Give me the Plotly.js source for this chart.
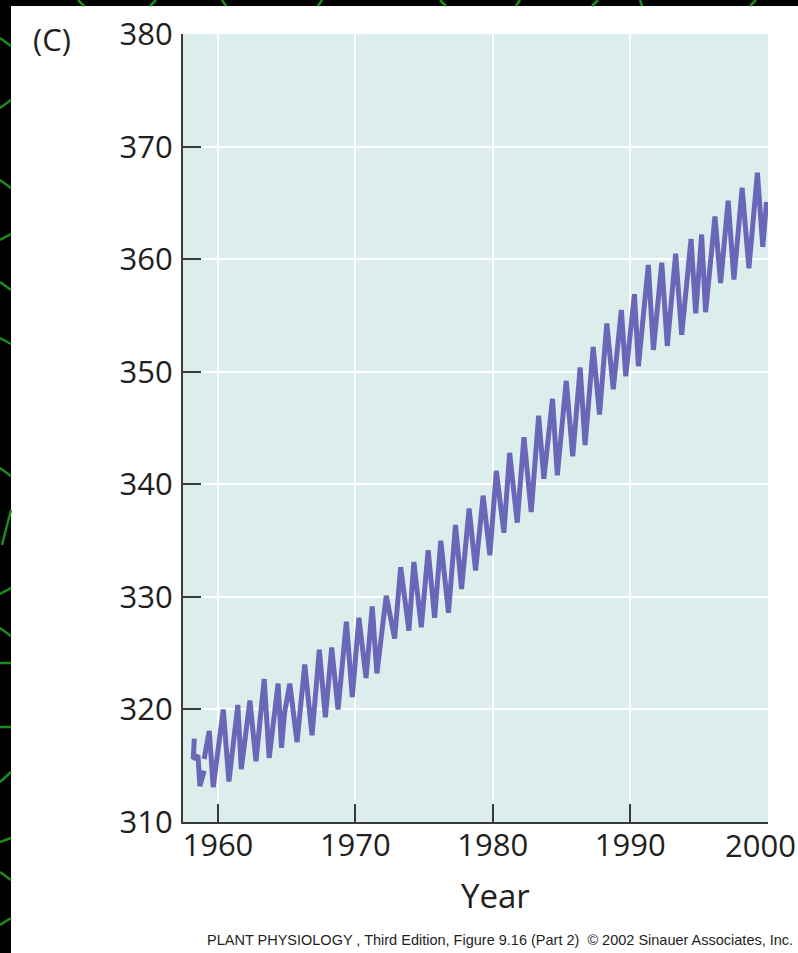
<!DOCTYPE html>
<html>
<head>
<meta charset="utf-8">
<script src="https://cdn.plot.ly/plotly-3.0.1.min.js"></script>
<style>
html,body{margin:0;padding:0;background:#000;}
#chart{width:798px;height:953px;}
</style>
</head>
<body>
<div id="chart"></div>
<script>
// Data (peaks and troughs of the CO2 record, ppm)
const years = [1958.28, 1958.21, 1958.55, 1958.69, 1959.00, null,
  1959.00, 1959.37, 1959.66, 1960.39, 1960.80, 1961.45, 1961.70, 1962.33, 1962.77,
  1963.37, 1963.73, 1964.07, 1964.38, 1964.63, 1964.85, 1965.23, 1965.76, 1966.32,
  1966.85, 1967.38, 1967.82, 1968.28, 1968.74, 1969.35, 1969.78, 1970.26, 1970.78,
  1971.23, 1971.57, 1972.25, 1972.86, 1973.30, 1973.90, 1974.26, 1974.80, 1975.30,
  1975.77, 1976.22, 1976.78, 1977.29, 1977.73, 1978.28, 1978.75, 1979.30, 1979.79,
  1980.26, 1980.81, 1981.23, 1981.78, 1982.27, 1982.80, 1983.34, 1983.72, 1984.35,
  1984.70, 1985.35, 1985.82, 1986.36, 1986.72, 1987.31, 1987.77, 1988.30, 1988.77,
  1989.36, 1989.68, 1990.31, 1990.60, 1991.32, 1991.69, 1992.30, 1992.70, 1993.31,
  1993.75, 1994.43, 1994.77, 1995.20, 1995.49, 1996.17, 1996.58, 1997.13, 1997.55,
  1998.15, 1998.64, 1999.26, 1999.65, 1999.92];
const co2 = [317.4, 315.6, 315.9, 313.2, 314.55, null,
  315.6, 318.1, 313.1, 320.0, 313.6, 320.4, 314.7, 320.8, 315.4,
  322.7, 315.7, 319.45, 322.3, 316.6, 319.7, 322.3, 317.1, 324.0,
  317.7, 325.3, 319.3, 325.5, 320.0, 327.8, 321.1, 328.15, 322.8,
  329.15, 323.2, 330.1, 326.3, 332.65, 327.0, 333.1, 327.3, 334.15,
  328.15, 335.0, 328.6, 336.4, 330.7, 337.85, 332.35, 339.0, 333.7,
  341.2, 335.7, 342.8, 336.6, 344.2, 337.55, 346.1, 340.5, 347.6,
  340.8, 349.2, 342.5, 350.4, 343.5, 352.2, 346.2, 354.3, 348.45,
  355.5, 349.6, 356.9, 350.5, 359.5, 351.95, 359.7, 352.3, 360.5,
  353.3, 361.8, 355.2, 362.2, 355.3, 363.8, 357.9, 365.2, 358.2,
  366.35, 359.2, 367.7, 361.1, 365.1];
const xTicks = [1960, 1970, 1980, 1990, 2000];
const xTickText = ['1960', '1970', '1980', '1990', ''];   // last label drawn as annotation (pulled in from the edge)
const lastXLabel = '2000';
const yTicks = [310, 320, 330, 340, 350, 360, 370, 380];

// layout geometry (pixels)
const W = 798, H = 953;
const L = 183, R = 768, T = 34, B = 822;
const px = x => (x - L) / (R - L);
const py = y => (B - y) / (B - T);

const green = '#1c8c1c';
const greenBits = [
  // top strip
  [78,0,84,6],[150,6,156,0],[222,0,226,6],[318,6,322,0],[440,0,446,6],[516,6,520,0],[592,6,598,0],[640,0,642,6],[750,6,756,0],
  // left strip
  [0,38,11,46],[0,108,11,100],[0,180,11,188],[0,240,11,234],[0,282,11,290],[0,338,11,344],[0,468,11,476],
  [2,545,11,510],[0,594,11,588],[0,628,11,636],[0,663,11,663],[0,727,11,727],[0,782,11,772],[0,842,11,838],[0,872,11,880],[0,925,11,918]
];
const shapes = [
  {type:'rect', xref:'paper', yref:'paper', layer:'below',
   x0:px(11), x1:px(W+10), y0:py(H+10), y1:py(6), fillcolor:'#ffffff', line:{width:0}},
  {type:'rect', xref:'paper', yref:'paper', layer:'below',
   x0:0, x1:1, y0:0, y1:1, fillcolor:'#dceeec', line:{width:0}}
];
greenBits.forEach(g => shapes.push({type:'line', xref:'paper', yref:'paper', layer:'below',
  x0:px(g[0]), y0:py(g[1]), x1:px(g[2]), y1:py(g[3]), line:{color:green, width:2.5}}));

const tickFont = {family:'"Open Sans", "Noto Sans", sans-serif', size:31, color:'#231f20'};

const trace = {
  x: years, y: co2, type:'scatter', mode:'lines',
  connectgaps:false,
  line:{color:'#6a67b9', width:5, shape:'linear'},
  hoverinfo:'skip'
};

const layout = {
  width: W, height: H,
  margin:{l:L, r:W-R, t:T, b:H-B, pad:0},
  paper_bgcolor:'#000000', plot_bgcolor:'#dceeec',
  showlegend:false,
  xaxis:{
    range:[1957.46, 2000.03], tickvals:xTicks, ticktext:xTickText,
    ticks:'inside', ticklen:18, tickwidth:2, tickcolor:'#3a3a3a',
    showline:true, linecolor:'#3a3a3a', linewidth:2,
    showgrid:true, gridcolor:'#ffffff', gridwidth:2, zeroline:false,
    tickfont:tickFont, ticklabelstandoff:-5, ticklabeloverflow:'allow', fixedrange:true
  },
  yaxis:{
    range:[310, 380.02], tickvals:yTicks, ticktext:yTicks.map(String),
    ticks:'inside', ticklen:18, tickwidth:2, tickcolor:'#3a3a3a',
    showline:true, linecolor:'#3a3a3a', linewidth:2,
    showgrid:true, gridcolor:'#ffffff', gridwidth:2, zeroline:false,
    tickfont:tickFont, ticklabelstandoff:2, ticklabeloverflow:'allow', fixedrange:true
  },
  shapes: shapes,
  annotations:[
    {text:lastXLabel, xref:'paper', yref:'paper', x:px(760), y:py(845), xanchor:'center', yanchor:'middle',
     showarrow:false, font:tickFont},
    {text:'(C)', xref:'paper', yref:'paper', x:px(52), y:py(39), xanchor:'center', yanchor:'middle',
     showarrow:false, font:{family:'"Open Sans", sans-serif', size:31, color:'#231f20'}},
    {text:'Year', xref:'paper', yref:'paper', x:px(495), y:py(895), xanchor:'center', yanchor:'middle',
     showarrow:false, font:{family:'"Open Sans", sans-serif', size:33, color:'#231f20'}},
    {text:'PLANT PHYSIOLOGY , Third Edition, Figure 9.16 (Part 2)  \u00a9 2002 Sinauer Associates, Inc.',
     xref:'paper', yref:'paper', x:px(795), y:py(940), xanchor:'right', yanchor:'middle',
     showarrow:false, font:{family:'"Liberation Sans", Arial, sans-serif', size:14.5, color:'#231f20'}}
  ]
};

Plotly.newPlot('chart', [trace], layout, {displayModeBar:false, staticPlot:true});
</script>
</body>
</html>
